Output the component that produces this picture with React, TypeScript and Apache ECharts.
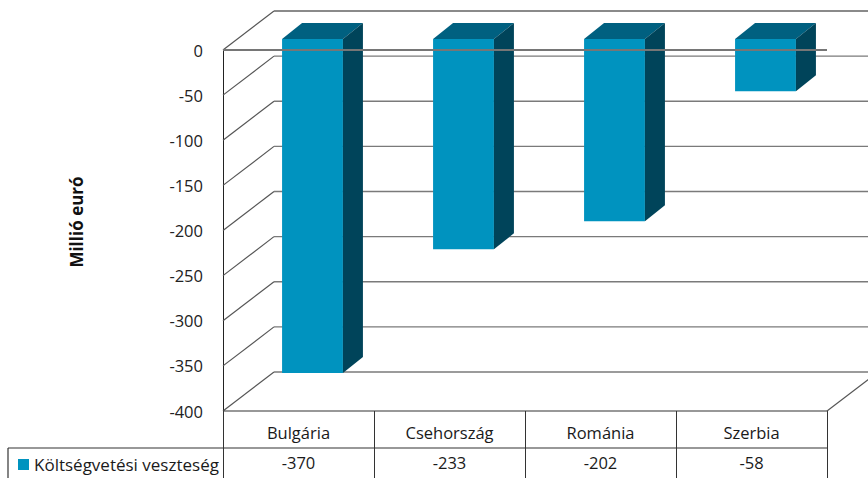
import React, { useEffect, useRef } from "react";
import * as echarts from "echarts";

const categories = ["Bulgária", "Csehország", "Románia", "Szerbia"];
const values = [-370, -233, -202, -58];
const yTicks = [0, -50, -100, -150, -200, -250, -300, -350, -400];
const seriesName = "Költségvetési veszteség";
const axisTitle = "Millió euró";

const FONT = "'Open Sans', 'Noto Sans', sans-serif";
// 3D wall depth offset (front plane -> back plane)
const WDX = 51;
const WDY = -39;
// bar placement in depth
const BOX = 14;
const BOY = -11;
const BDX = 20;
const BDY = -16;

const FRONT = "#0093bf";
const TOP = "#006080";
const SIDE = "#00445a";

export default function App() {
  const ref = useRef<HTMLDivElement>(null);
  useEffect(() => {
    document.body.style.margin = "0";
    const chart = echarts.init(ref.current!, null, { renderer: "svg" });
    const option: any = {
      animation: false,
      textStyle: { fontFamily: FONT },
      grid: { left: 223, top: 50, width: 604, height: 361 },
      legend: {
        left: 13,
        top: 451,
        data: [seriesName],
        icon: "rect",
        itemWidth: 11,
        itemHeight: 11,
        selectedMode: false,
        textStyle: { fontSize: 17, color: "#1a1a1a", fontFamily: FONT },
      },
      graphic: [
        {
          type: "text",
          x: 76,
          y: 222,
          rotation: Math.PI / 2,
          style: {
            text: axisTitle,
            fontSize: 17,
            fontWeight: "bold",
            fill: "#111",
            fontFamily: FONT,
            align: "center",
            verticalAlign: "middle",
          },
        },
      ],
      xAxis: [
        {
          type: "category",
          data: categories,
          position: "bottom",
          axisLine: { show: false, onZero: false },
          axisTick: { show: true, interval: 0, length: 70, lineStyle: { color: "#333", width: 1 } },
          axisLabel: { fontSize: 16.5, color: "#1a1a1a", margin: 13, interval: 0, fontFamily: FONT },
          splitLine: { show: false },
        },
        {
          type: "category",
          data: categories,
          position: "bottom",
          offset: 37,
          axisLine: { show: false, onZero: false },
          axisTick: { show: false },
          axisLabel: {
            fontSize: 16.5,
            color: "#1a1a1a",
            margin: 6,
            interval: 0,
            fontFamily: FONT,
            formatter: (_v: string, i: number) => String(values[i]),
          },
          splitLine: { show: false },
        },
      ],
      yAxis: {
        type: "value",
        min: -400,
        max: 0,
        interval: 50,
        axisLine: { show: true, lineStyle: { color: "#222", width: 1 } },
        axisTick: { show: false },
        splitLine: { show: false },
        axisLabel: { fontSize: 16.5, color: "#222", margin: 20, fontFamily: FONT },
      },
      series: [
        {
          type: "custom",
          z: 1,
          silent: true,
          data: yTicks.map((v) => [0, v]),
          renderItem: (params: any, api: any) => {
            const cs = params.coordSys;
            const v = api.value(1);
            const y = api.coord([0, v])[1];
            const x0 = cs.x;
            const children: any[] = [
              {
                type: "line",
                shape: { x1: x0, y1: y, x2: x0 + WDX, y2: y + WDY },
                style: { stroke: "#555", lineWidth: 1.2 },
              },
              {
                type: "line",
                shape: { x1: x0 + WDX, y1: y + WDY, x2: x0 + cs.width + WDX, y2: y + WDY },
                style: { stroke: v === 0 ? "#8a8a8a" : "#7a7a7a", lineWidth: v === 0 ? 2.2 : 1.4 },
              },
            ];
            if (v === yTicks[yTicks.length - 1]) {
              children.push({
                type: "line",
                shape: { x1: x0 + cs.width, y1: y, x2: x0 + cs.width + WDX, y2: y + WDY },
                style: { stroke: "#555", lineWidth: 1.2 },
              });
            }
            return { type: "group", children };
          },
        },
        {
          type: "custom",
          name: seriesName,
          z: 2,
          itemStyle: { color: FRONT },
          data: values.map((v, i) => [i, v]),
          encode: { x: 0, y: 1 },
          renderItem: (_params: any, api: any) => {
            const i = api.value(0);
            const v = api.value(1);
            const p0 = api.coord([i, 0]);
            const p1 = api.coord([i, v]);
            const band = api.size([1, 0])[0];
            const w = band * 0.403;
            const xl = p0[0] - w / 2 + BOX;
            const xr = xl + w;
            const yt = p0[1] + BOY;
            const yb = p1[1] + BOY;
            return {
              type: "group",
              children: [
                {
                  type: "rect",
                  shape: { x: xl, y: yt, width: w, height: yb - yt },
                  style: { fill: FRONT },
                },
                {
                  type: "polygon",
                  shape: {
                    points: [
                      [xl, yt],
                      [xl + BDX, yt + BDY],
                      [xr + BDX, yt + BDY],
                      [xr, yt],
                    ],
                  },
                  style: { fill: TOP },
                },
                {
                  type: "polygon",
                  shape: {
                    points: [
                      [xr, yt],
                      [xr + BDX, yt + BDY],
                      [xr + BDX, yb + BDY],
                      [xr, yb],
                    ],
                  },
                  style: { fill: SIDE },
                },
              ],
            };
          },
        },
        {
          type: "custom",
          z: 3,
          silent: true,
          data: [[0, 0]],
          renderItem: (params: any, api: any) => {
            const cs = params.coordSys;
            const y0 = api.coord([0, 0])[1];
            const yf = cs.y + cs.height;
            const yr = yf + 37;
            return {
              type: "group",
              children: [
                {
                  type: "line",
                  shape: { x1: cs.x, y1: y0, x2: cs.x + cs.width, y2: y0 },
                  style: { stroke: "#767676", lineWidth: 2.2 },
                },
                {
                  type: "line",
                  shape: { x1: cs.x, y1: yf, x2: cs.x + cs.width, y2: yf },
                  style: { stroke: "#333", lineWidth: 1.2 },
                },
                {
                  type: "line",
                  shape: { x1: 8, y1: yr, x2: cs.x + cs.width, y2: yr },
                  style: { stroke: "#333", lineWidth: 1.2 },
                },
                {
                  type: "line",
                  shape: { x1: 8, y1: yr, x2: 8, y2: yr + 40 },
                  style: { stroke: "#333", lineWidth: 1.2 },
                },
              ],
            };
          },
        },
      ],
    };
    chart.setOption(option);
    return () => chart.dispose();
  }, []);
  return <div ref={ref} style={{ width: 868, height: 478 }} />;
}
